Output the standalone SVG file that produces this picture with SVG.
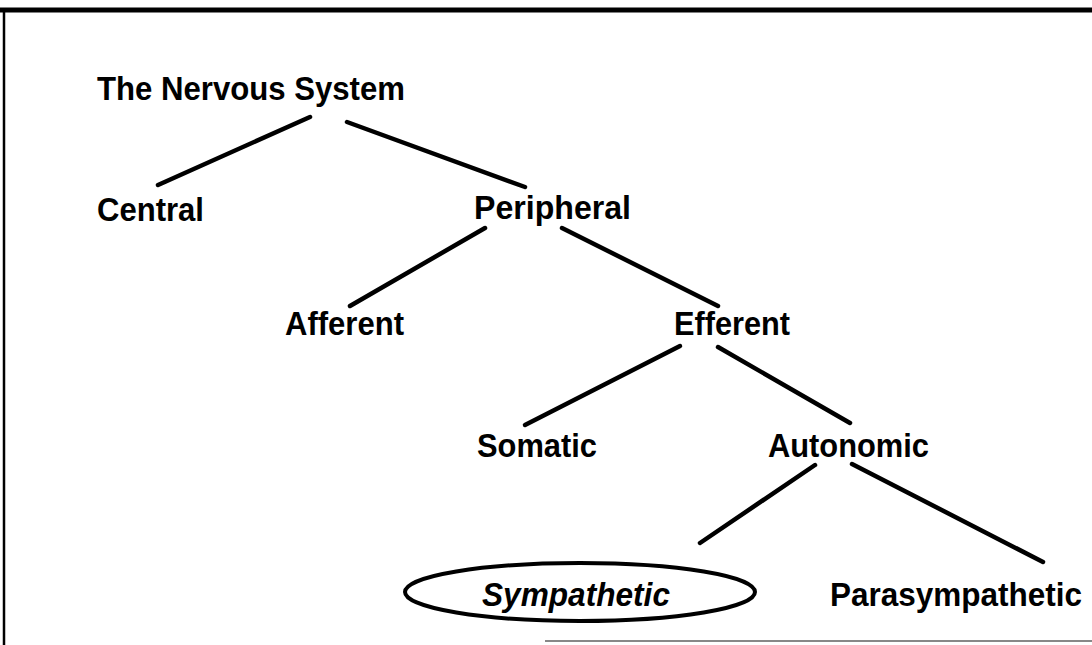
<svg xmlns="http://www.w3.org/2000/svg" width="1092" height="645" viewBox="0 0 1092 645">
<style>
.t{font-family:"Liberation Sans",Arial,sans-serif;font-weight:bold;font-size:34px;fill:#000}
.i{font-style:italic}
.s{font-size:32.5px}
.c{stroke:#000;stroke-width:4.5;stroke-linecap:round;fill:none}
</style>
<rect width="1092" height="645" fill="#fff"/>
<g id="frame">
<line x1="0" y1="10" x2="1092" y2="10" stroke="#000" stroke-width="5"/>
<line x1="4" y1="10" x2="4" y2="645" stroke="#000" stroke-width="2.5"/>
<line x1="545" y1="641" x2="1092" y2="641" stroke="#888" stroke-width="2"/>
</g>
<g id="connectors">
<line class="c" x1="158" y1="185" x2="310" y2="117"/>
<line class="c" x1="347" y1="122" x2="525" y2="187"/>
<line class="c" x1="350" y1="306" x2="485" y2="228"/>
<line class="c" x1="562" y1="228" x2="718" y2="306"/>
<line class="c" x1="525" y1="425" x2="680" y2="346"/>
<line class="c" x1="718" y1="347" x2="850" y2="423"/>
<line class="c" x1="700" y1="543" x2="815" y2="465"/>
<line class="c" x1="852" y1="464" x2="1043" y2="562"/>
</g>
<g id="nervous-system"><text class="t" x="97" y="100" textLength="308" lengthAdjust="spacingAndGlyphs">The Nervous System</text></g>
<g id="central"><text class="t" x="97" y="221" textLength="107" lengthAdjust="spacingAndGlyphs">Central</text></g>
<g id="peripheral"><text class="t" x="474" y="219" textLength="157" lengthAdjust="spacingAndGlyphs">Peripheral</text></g>
<g id="afferent"><text class="t" x="285" y="335" textLength="119" lengthAdjust="spacingAndGlyphs">Afferent</text></g>
<g id="efferent"><text class="t" x="674" y="335" textLength="116" lengthAdjust="spacingAndGlyphs">Efferent</text></g>
<g id="somatic"><text class="t" x="477" y="457" textLength="120" lengthAdjust="spacingAndGlyphs">Somatic</text></g>
<g id="autonomic"><text class="t" x="768" y="457" textLength="161" lengthAdjust="spacingAndGlyphs">Autonomic</text></g>
<g id="sympathetic">
<ellipse cx="580" cy="592" rx="175" ry="29" fill="none" stroke="#000" stroke-width="4"/>
<text class="t i" x="482" y="606" textLength="188" lengthAdjust="spacingAndGlyphs">Sympathetic</text>
</g>
<g id="parasympathetic"><text class="t s" x="830" y="606" textLength="252" lengthAdjust="spacingAndGlyphs">Parasympathetic</text></g>
</svg>
